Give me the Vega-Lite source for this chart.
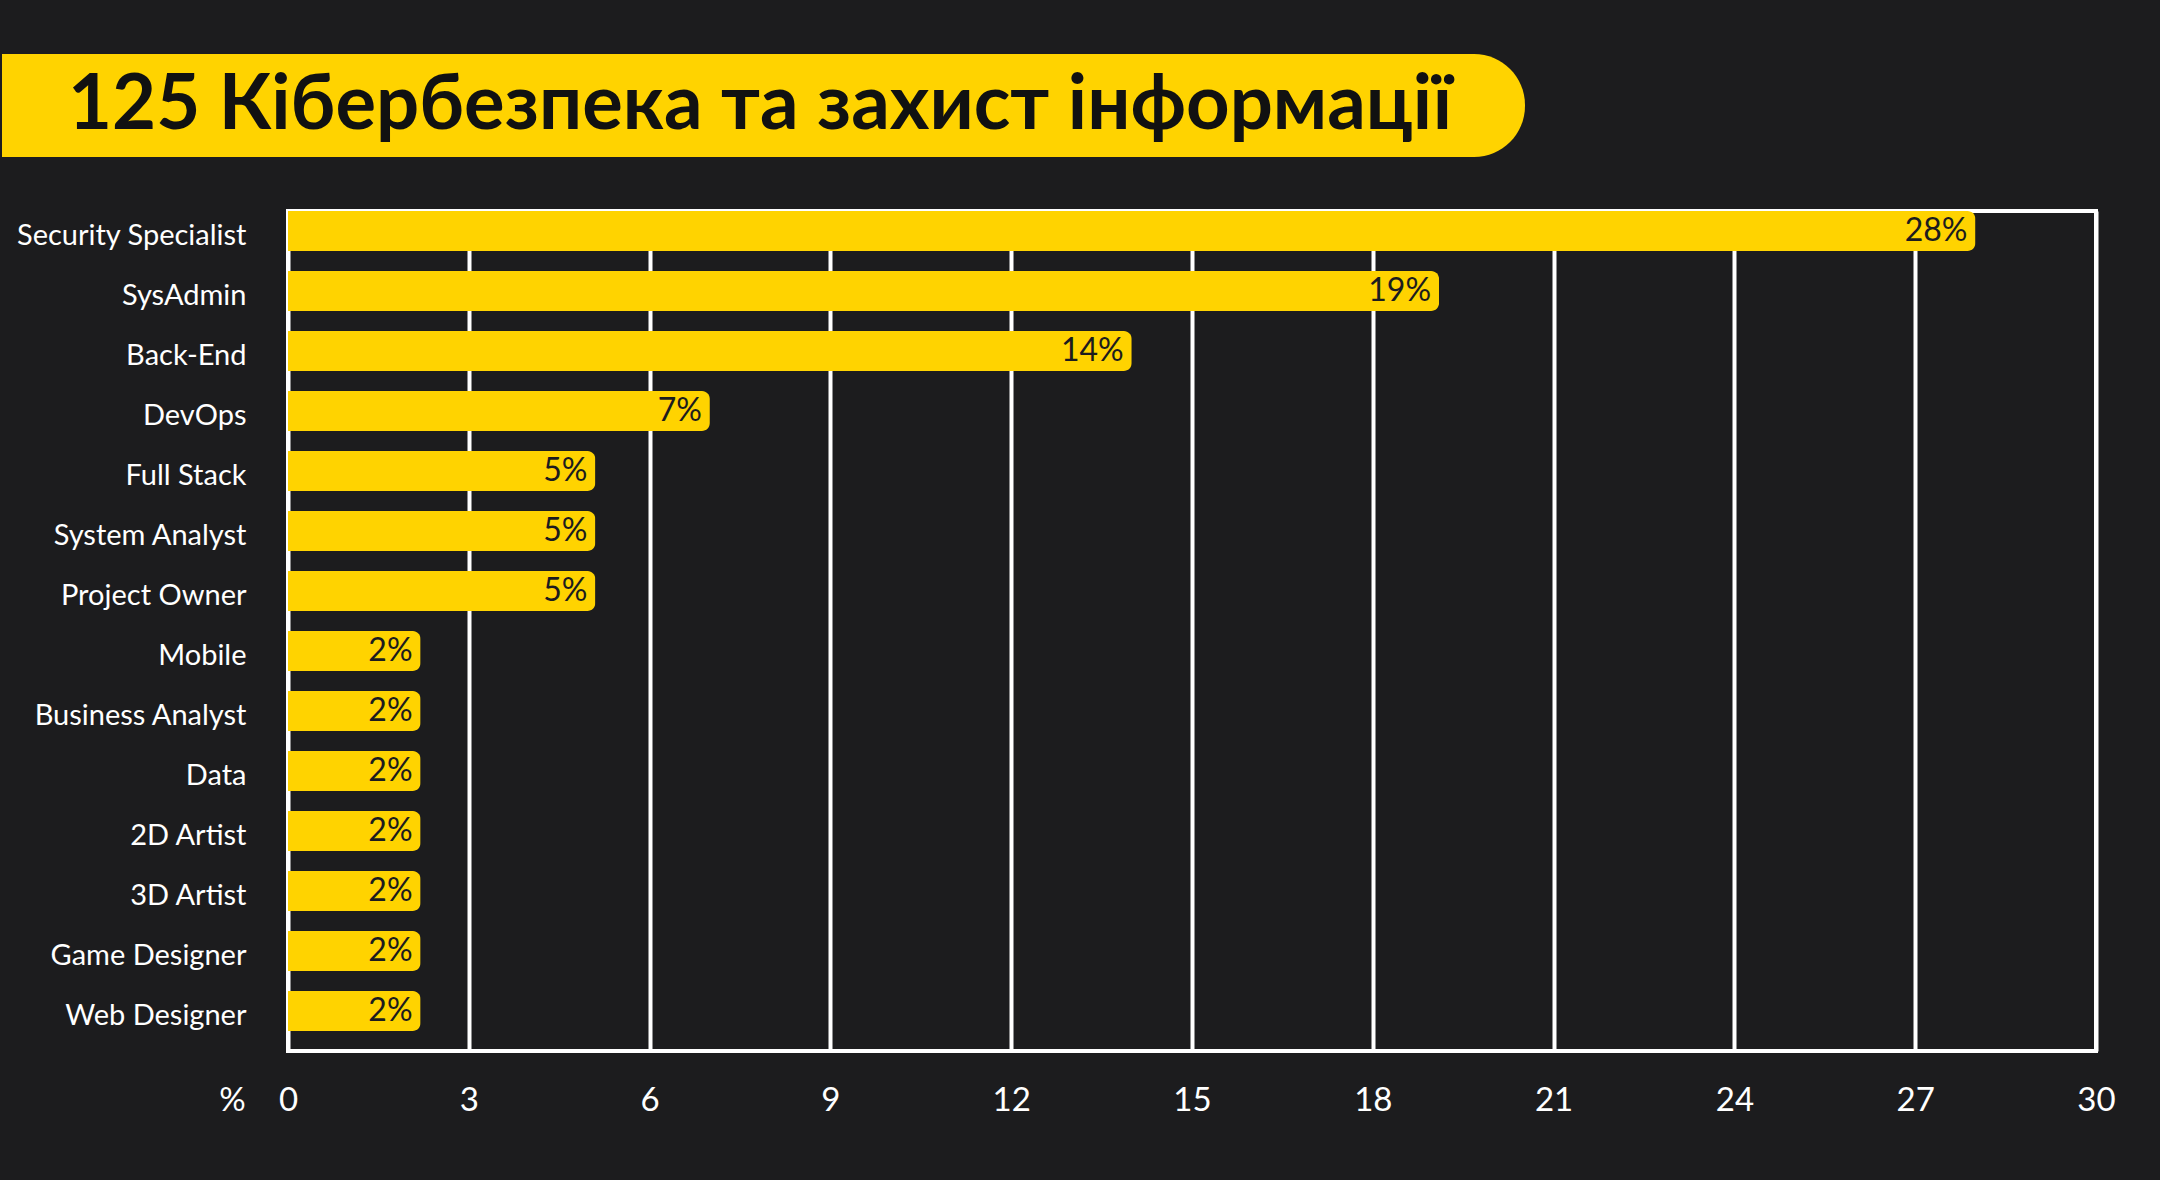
{
  "$schema": "https://vega.github.io/schema/vega-lite/v6.json",
  "background": "#1c1c1e",
  "padding": {"top": 54, "left": 0, "right": 47, "bottom": 61},
  "config": {
    "font": "Lato",
    "view": {"stroke": null}
  },
  "spacing": 52,
  "vconcat": [
    {
      "width": 1237,
      "height": 103,
      "data": {"values": [{"title": "125 Кібербезпека та захист інформації", "start": -0.2312, "end": 1}]},
      "encoding": {
        "y": {"field": "title", "type": "nominal", "scale": {"paddingInner": 0, "paddingOuter": 0}, "axis": null}
      },
      "layer": [
        {
          "mark": {"type": "bar", "color": "#ffd300", "cornerRadiusTopRight": 51, "cornerRadiusBottomRight": 51, "clip": false},
          "encoding": {
            "x": {"field": "start", "type": "quantitative", "scale": {"domain": [0, 1], "nice": false, "zero": false}, "axis": null},
            "x2": {"field": "end"}
          }
        },
        {
          "mark": {"type": "text", "align": "left", "baseline": "middle", "dx": 66, "fontSize": 76, "fontWeight": "bold", "color": "#111111", "clip": false},
          "encoding": {
            "x": {"field": "start", "type": "quantitative"},
            "text": {"field": "title", "type": "nominal"}
          }
        }
      ]
    },
    {
      "width": 1808,
      "height": 840,
      "view": {"stroke": "#ffffff", "strokeWidth": 4},
      "data": {
        "values": [
          {"role": "Security Specialist", "value": 28, "label": "28%"},
          {"role": "SysAdmin", "value": 19.1, "label": "19%"},
          {"role": "Back-End", "value": 14, "label": "14%"},
          {"role": "DevOps", "value": 7, "label": "7%"},
          {"role": "Full Stack", "value": 5.1, "label": "5%"},
          {"role": "System Analyst", "value": 5.1, "label": "5%"},
          {"role": "Project Owner", "value": 5.1, "label": "5%"},
          {"role": "Mobile", "value": 2.2, "label": "2%"},
          {"role": "Business Analyst", "value": 2.2, "label": "2%"},
          {"role": "Data", "value": 2.2, "label": "2%"},
          {"role": "2D Artist", "value": 2.2, "label": "2%"},
          {"role": "3D Artist", "value": 2.2, "label": "2%"},
          {"role": "Game Designer", "value": 2.2, "label": "2%"},
          {"role": "Web Designer", "value": 2.2, "label": "2%"}
        ]
      },
      "encoding": {
        "y": {
          "field": "role",
          "type": "nominal",
          "sort": null,
          "scale": {"paddingInner": 0.3333, "paddingOuter": 0.1667, "align": 0},
          "axis": {
            "title": null,
            "domain": false,
            "ticks": false,
            "tickSize": 0,
            "grid": false,
            "labelPadding": 42,
            "labelOffset": 5,
            "labelFontSize": 29,
            "labelColor": "#ffffff",
            "labelLimit": 400,
            "minExtent": 286,
            "maxExtent": 400
          }
        },
        "x": {
          "field": "value",
          "type": "quantitative",
          "scale": {"domain": [0, 30], "nice": false},
          "axis": {
            "title": "%",
            "titleX": -56,
            "titleY": 49,
            "titleAlign": "center",
            "titleBaseline": "middle",
            "titleFontSize": 33,
            "titleFontWeight": "normal",
            "titleColor": "#ffffff",
            "titleAngle": 0,
            "values": [0, 3, 6, 9, 12, 15, 18, 21, 24, 27, 30],
            "domain": false,
            "ticks": false,
            "tickSize": 0,
            "labelPadding": 49,
            "labelBaseline": "middle",
            "labelFlush": false,
            "labelFontSize": 33,
            "labelColor": "#ffffff",
            "grid": true,
            "gridColor": "#ffffff",
            "gridWidth": 4,
            "gridOpacity": 1
          }
        }
      },
      "layer": [
        {
          "mark": {"type": "bar", "color": "#ffd300", "cornerRadiusEnd": 8}
        },
        {
          "mark": {"type": "text", "align": "right", "baseline": "middle", "dx": -8, "fontSize": 32, "color": "#1c1c1e"},
          "encoding": {"text": {"field": "label", "type": "nominal"}}
        }
      ]
    }
  ]
}
